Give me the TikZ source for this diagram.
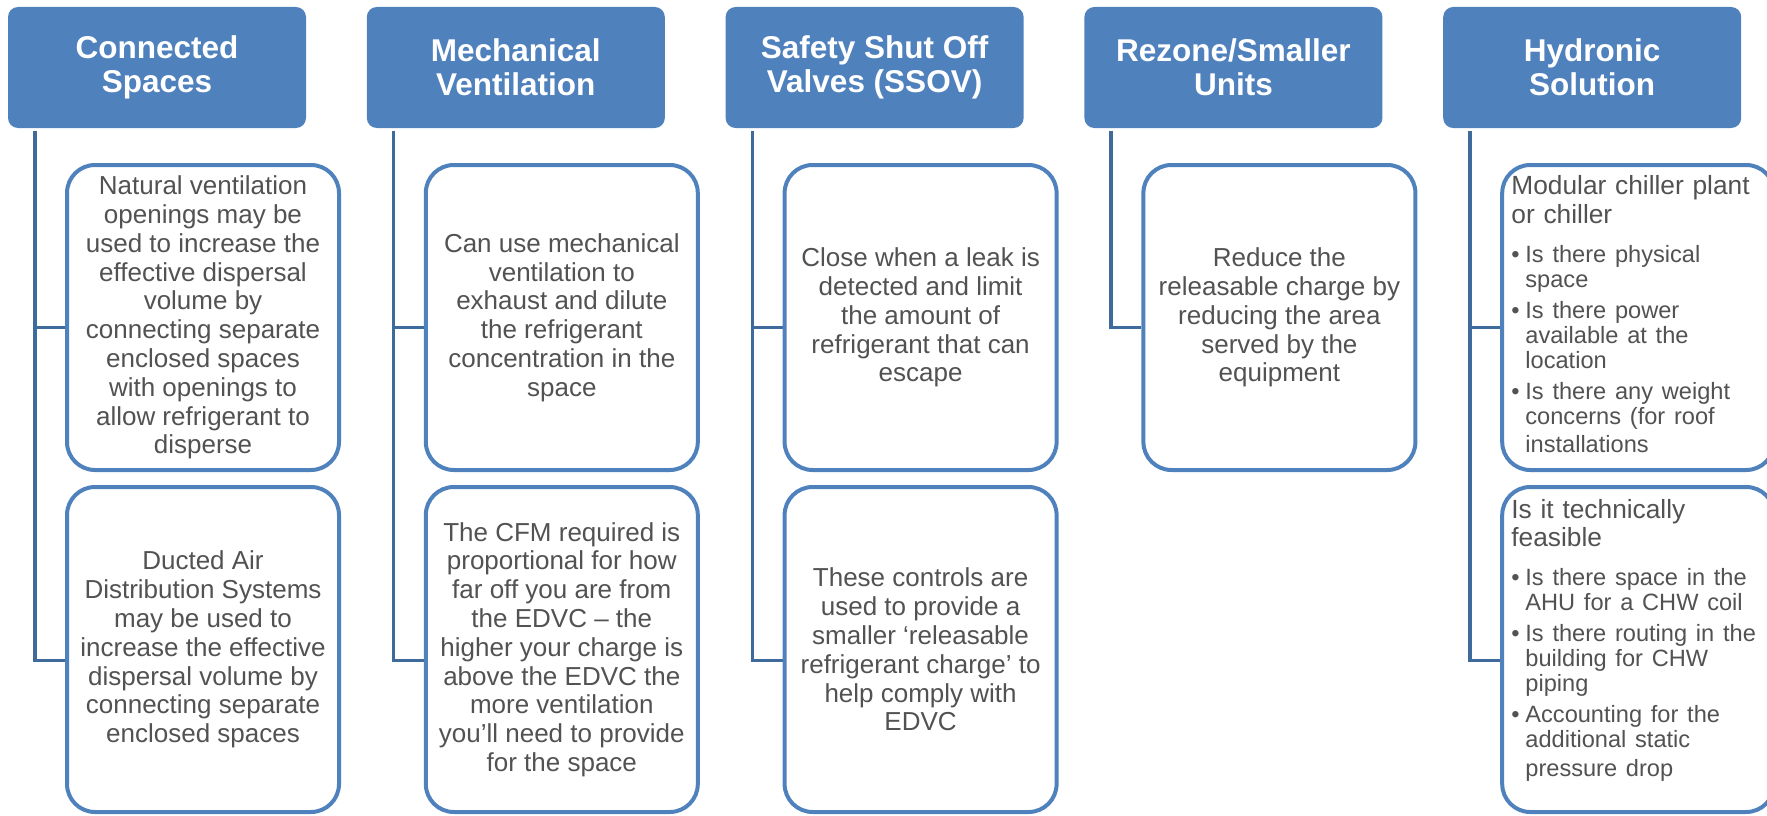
\documentclass[tikz,border=0pt]{standalone}
\usepackage{fontspec}
\setmainfont{Liberation Sans}
\usetikzlibrary{calc,backgrounds}
\definecolor{hdrblue}{HTML}{4F81BD}
\definecolor{linkblue}{HTML}{3F6A9C}
\definecolor{txtgray}{HTML}{525252}
\newcommand{\bul}{\makebox[14pt][l]{\textbullet}}
\newcommand{\ind}{\hspace*{14pt}}
\tikzset{
  hdr/.style={fill=hdrblue, draw=none, rounded corners=10pt, minimum width=298pt, minimum height=121pt, inner sep=0pt, align=center, text=white, font=\fontsize{31.5}{34}\selectfont\bfseries},
  card/.style={draw=hdrblue, line width=4pt, fill=white, rounded corners=28pt, minimum width=272pt, inner sep=0pt, align=center, text=txtgray, font=\fontsize{26}{28.8}\selectfont},
  rowone/.style={minimum height=305pt},
  rowtwo/.style={minimum height=325pt},
  conn/.style={draw=linkblue, line width=3.5pt},
  listtext/.style={anchor=base west, inner sep=0pt, text width=250pt, align=left, text=txtgray, font=\fontsize{26.3}{28.5}\selectfont},
}
\begin{document}
\begin{tikzpicture}[x=1pt,y=-1pt]
\useasboundingbox (0,0) rectangle (1767,816);
\clip (0,0) rectangle (1767,816);

% headers
\node[hdr] (h1) at (157,67.5) {Connected\\Spaces};
\node[hdr] (h2) at (515.8,67.5) {Mechanical\\Ventilation};
\node[hdr] (h3) at (874.6,67.5) {Safety Shut Off\\Valves (SSOV)};
\node[hdr] (h4) at (1233.4,67.5) {Rezone/Smaller\\Units};
\node[hdr] (h5) at (1592.2,67.5) {Hydronic\\Solution};

% cards, row one
\node[card,rowone] (c11) at (203,317.5) {Natural ventilation\\openings may be\\used to increase the\\effective dispersal\\volume by\\connecting separate\\enclosed spaces\\with openings to\\allow refrigerant to\\disperse};
\node[card,rowone] (c21) at (561.8,317.5) {Can use mechanical\\ventilation to\\exhaust and dilute\\the refrigerant\\concentration in the\\space};
\node[card,rowone] (c31) at (920.6,317.5) {Close when a leak is\\detected and limit\\the amount of\\refrigerant that can\\escape};
\node[card,rowone] (c41) at (1279.4,317.5) {Reduce the\\releasable charge by\\reducing the area\\served by the\\equipment};
\node[card,rowone] (c51) at (1638.2,317.5) {};

% cards, row two
\node[card,rowtwo] (c12) at (203,649.5) {Ducted Air\\Distribution Systems\\may be used to\\increase the effective\\dispersal volume by\\connecting separate\\enclosed spaces};
\node[card,rowtwo] (c22) at (561.8,649.5) {The CFM required is\\proportional for how\\far off you are from\\the EDVC – the\\higher your charge is\\above the EDVC the\\more ventilation\\you’ll need to provide\\for the space};
\node[card,rowtwo] (c32) at (920.6,649.5) {These controls are\\used to provide a\\smaller ‘releasable\\refrigerant charge’ to\\help comply with\\EDVC};
\node[card,rowtwo] (c52) at (1638.2,649.5) {};

% hydronic lists
\node[listtext] (t51) at ($(c51.north west)+(11,31.7)$) {%
Modular chiller plant\\
or chiller\\[14pt]
\fontsize{23.6}{25}\selectfont
\bul Is there physical\\
\ind space\\[6pt]
\bul Is there power\\
\ind available at the\\
\ind location\\[6pt]
\bul Is there any weight\\
\ind concerns (for roof\\
\ind installations};
\node[listtext] (t52) at ($(c52.north west)+(11,33)$) {%
Is it technically\\
feasible\\[14pt]
\fontsize{23.6}{25}\selectfont
\bul Is there space in the\\
\ind AHU for a CHW coil\\[6pt]
\bul Is there routing in the\\
\ind building for CHW\\
\ind piping\\[6pt]
\bul Accounting for the\\
\ind additional static\\
\ind pressure drop};

% connectors
\coordinate (v1) at ($(h1.south west)+(27,3)$);
\coordinate (v2) at ($(h2.south west)+(27,3)$);
\coordinate (v3) at ($(h3.south west)+(27,3)$);
\coordinate (v4) at ($(h4.south west)+(27,3)$);
\coordinate (v5) at ($(h5.south west)+(27,3)$);
\coordinate (e11) at ($(c11.west)+(0,10)$);
\coordinate (e21) at ($(c21.west)+(0,10)$);
\coordinate (e31) at ($(c31.west)+(0,10)$);
\coordinate (e41) at ($(c41.west)+(0,10)$);
\coordinate (e51) at ($(c51.west)+(0,10)$);
\coordinate (e12) at ($(c12.west)+(0,11)$);
\coordinate (e22) at ($(c22.west)+(0,11)$);
\coordinate (e32) at ($(c32.west)+(0,11)$);
\coordinate (e52) at ($(c52.west)+(0,11)$);
\begin{scope}[on background layer]
\draw[conn] (v1) |- (e12);
\draw[conn] (v1 |- e11) -- (e11);
\draw[conn] (v2) |- (e22);
\draw[conn] (v2 |- e21) -- (e21);
\draw[conn] (v3) |- (e32);
\draw[conn] (v3 |- e31) -- (e31);
\draw[conn] (v4) |- (e41);
\draw[conn] (v5) |- (e52);
\draw[conn] (v5 |- e51) -- (e51);
\end{scope}
\end{tikzpicture}
\end{document}
